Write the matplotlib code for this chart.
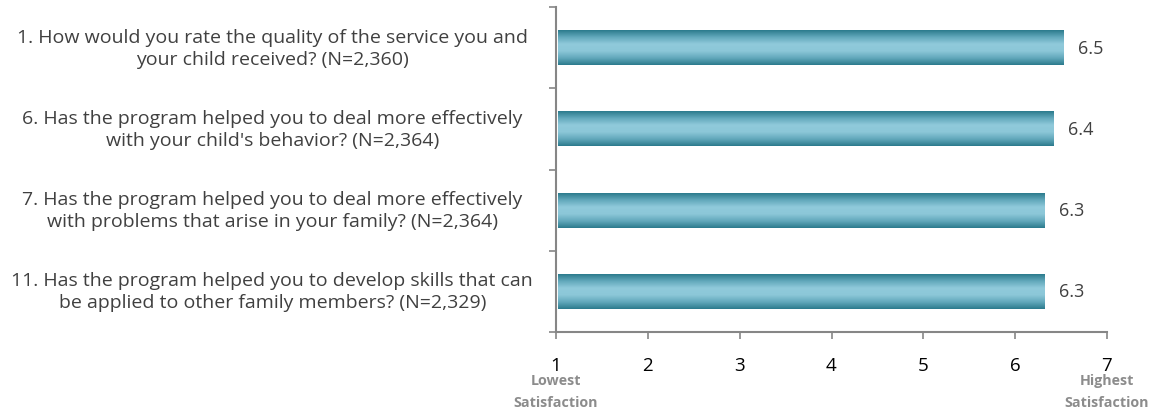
import numpy as np
import matplotlib.pyplot as plt
from matplotlib.colors import LinearSegmentedColormap

questions = [
    "1. How would you rate the quality of the service you and\nyour child received? (N=2,360)",
    "6. Has the program helped you to deal more effectively\nwith your child's behavior? (N=2,364)",
    "7. Has the program helped you to deal more effectively\nwith problems that arise in your family? (N=2,364)",
    "11. Has the program helped you to develop skills that can\nbe applied to other family members? (N=2,329)",
]
scores = [6.5, 6.4, 6.3, 6.3]
x_ticks = [1, 2, 3, 4, 5, 6, 7]

plt.rcParams['font.family'] = ['Open Sans', 'DejaVu Sans']

text_color = '#404040'
axis_color = '#868686'
bar_cmap = LinearSegmentedColormap.from_list(
    'bar', ['#2b7a8c', '#62a8bb', '#90cadb', '#8cc7d8', '#62a8bb', '#2b7a8c'])

figure = plt.figure(figsize=(11.57, 4.14), dpi=100)
ax = figure.add_axes([556 / 1157, 1 - 333 / 414, (1107 - 556) / 1157, (333 - 8) / 414])

y = np.arange(len(questions))
bars = ax.barh(y, np.array(scores) - 1, left=1.02, height=0.43, color='none')

gradient = np.linspace(0, 1, 256).reshape(-1, 1)
for bar in bars:
    x0, y0 = bar.get_x(), bar.get_y()
    w, h = bar.get_width(), bar.get_height()
    ax.imshow(gradient, cmap=bar_cmap, aspect='auto', extent=(x0, x0 + w, y0, y0 + h),
              origin='lower', zorder=2)

for bar, val in zip(bars, scores):
    ax.text(bar.get_x() + bar.get_width() + 0.16, bar.get_y() + bar.get_height() / 2,
            f'{val:.1f}', va='center', ha='left', fontsize=13, color=text_color)

# question labels, centred in the space left of the axis
for yi, q in zip(y, questions):
    ax.text(-2.09, yi, q, ha='center', va='center', fontsize=14, color=text_color,
            multialignment='center', linespacing=1.3, clip_on=False)

ax.set_xlim(1, 7)
ax.set_ylim(len(questions) - 0.5, -0.5)
ax.set_xticks(x_ticks)
ax.set_xticklabels([str(t) for t in x_ticks], fontsize=13.5, color='black')
ax.set_yticks(np.arange(len(questions) + 1) - 0.5)
ax.set_yticklabels([])
ax.tick_params(axis='y', length=5, color=axis_color, width=1.2)
ax.tick_params(axis='x', length=5, color=axis_color, width=1.2, pad=12)

for side in ['top', 'right']:
    ax.spines[side].set_visible(False)
for side in ['left', 'bottom']:
    ax.spines[side].set_color(axis_color)
    ax.spines[side].set_linewidth(1.5)

for xv, label in [(1, 'Lowest\nSatisfaction'), (7, 'Highest\nSatisfaction')]:
    ax.text(xv, -0.125, label, transform=ax.get_xaxis_transform(),
            ha='center', va='top', fontsize=10.3, fontweight='bold', color='#8c8c8c',
            linespacing=1.75)

figure.savefig('out.png', dpi=100)
